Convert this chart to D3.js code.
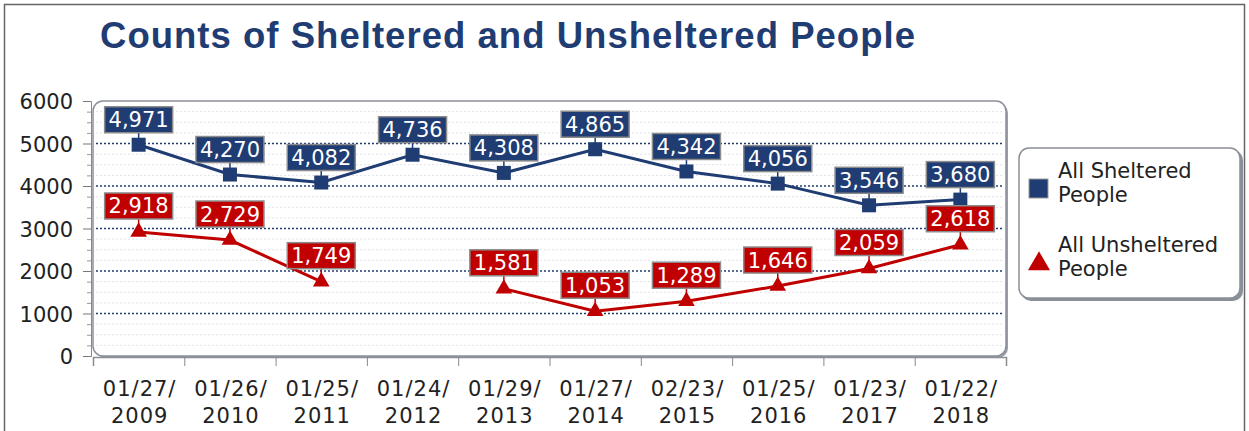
<!DOCTYPE html>
<html><head><meta charset="utf-8">
<script src="https://cdn.jsdelivr.net/npm/d3@7"></script>
<style>
html,body{margin:0;padding:0;background:#fff;}
svg{display:block;}
</style></head>
<body>
<svg id="c" width="1249" height="431"></svg>
<script>
const categories = ["01/27/2009","01/26/2010","01/25/2011","01/24/2012","01/29/2013","01/27/2014","02/23/2015","01/25/2016","01/23/2017","01/22/2018"];
const sheltered = [4971,4270,4082,4736,4308,4865,4342,4056,3546,3680];
const unsheltered = [2918,2729,1749,null,1581,1053,1289,1646,2059,2618];
const yTicks = [0,1000,2000,3000,4000,5000,6000];
const seriesNames = ["All Sheltered People","All Unsheltered People"];
const title = "Counts of Sheltered and Unsheltered People";

const BLUE = "#1f3c73", RED = "#c00000", TXT = "#222";
const FONT = "DejaVu Sans, Verdana, sans-serif";
const svg = d3.select("#c");
const L = 93, R = 1006, T = 101, B = 356;

// outer border
svg.append("rect").attr("x",4.5).attr("y",4.5).attr("width",1240).attr("height",440)
  .attr("fill","none").attr("stroke","#666").attr("stroke-width",1.5);

// title
svg.append("text").attr("x",100).attr("y",48).text(title)
  .attr("font-family","Liberation Sans, Arial, sans-serif").attr("font-weight","bold")
  .attr("font-size",36.5).attr("fill",BLUE)
  .attr("textLength",815).attr("lengthAdjust","spacing");

const y = d3.scaleLinear().domain([0,6000]).range([B,T]);
const x = d3.scaleBand().domain(categories).range([L,R]);
const xi = d3.scaleLinear().domain([0,categories.length]).range([L,R]);
const cx = c => x(c) + x.bandwidth()/2;

// plot background with shadow
svg.append("rect").attr("x",L+2).attr("y",T+2).attr("width",R-L).attr("height",B-T)
  .attr("rx",10).attr("fill","#9aa0aa");
svg.append("rect").attr("x",L).attr("y",T).attr("width",R-L).attr("height",B-T)
  .attr("rx",10).attr("fill","#fff").attr("stroke","#8a8f98").attr("stroke-width",1.5);

// minor grid
const minor = d3.range(250,6000,250).filter(v => v%1000!==0);
svg.append("g").selectAll("line").data(minor).join("line")
  .attr("x1",L+3).attr("x2",R-3).attr("y1",d=>y(d)).attr("y2",d=>y(d))
  .attr("stroke","#dfe2e8").attr("stroke-width",1).attr("stroke-dasharray","2,2");
// major grid
svg.append("g").selectAll("line").data(yTicks.filter(v=>v>0&&v<6000)).join("line")
  .attr("x1",L+3).attr("x2",R-3).attr("y1",d=>y(d)).attr("y2",d=>y(d))
  .attr("stroke",BLUE).attr("stroke-width",1.6).attr("stroke-dasharray","2,2");

// y axis
const ya = svg.append("g").attr("transform",`translate(${L-2},0)`)
  .call(d3.axisLeft(y).tickValues(yTicks).tickSize(8).tickPadding(10).tickFormat(d3.format("d")));
ya.select(".domain").attr("stroke","#888");
ya.selectAll(".tick line").attr("stroke","#777");
ya.selectAll("text").attr("font-family",FONT).attr("font-size",21).attr("fill",TXT).attr("dy","0.36em");
const ym = svg.append("g").attr("transform",`translate(${L-2},0)`)
  .call(d3.axisLeft(y).tickValues(minor).tickSize(4).tickFormat(""));
ym.select(".domain").remove();
ym.selectAll(".tick line").attr("stroke","#999");

// x axis
const xa = svg.append("g").attr("transform",`translate(0,${B+1})`)
  .call(d3.axisBottom(xi).ticks(categories.length).tickSize(9).tickFormat(""));
xa.select(".domain").attr("stroke","#8a8f98").attr("stroke-width",1.5);
xa.selectAll(".tick line").attr("stroke","#888");

const xl = svg.append("g").selectAll("text").data(categories).join("text")
  .attr("x",d=>cx(d)+1).attr("y",396).attr("text-anchor","middle")
  .attr("font-family",FONT).attr("font-size",21)
  .attr("letter-spacing",1).attr("fill",TXT);
xl.append("tspan").attr("x",d=>cx(d)+1).text(d=>d.slice(0,6));
xl.append("tspan").attr("x",d=>cx(d)+1).attr("dy",27).text(d=>d.slice(6));

// lines
const line = d3.line().defined(d=>d.v!=null).x(d=>cx(d.c)).y(d=>y(d.v));
const sData = categories.map((c,i)=>({c,v:sheltered[i]}));
const uData = categories.map((c,i)=>({c,v:unsheltered[i]}));
svg.append("path").datum(sData).attr("d",line).attr("fill","none").attr("stroke",BLUE).attr("stroke-width",3);
svg.append("path").datum(uData).attr("d",line).attr("fill","none").attr("stroke",RED).attr("stroke-width",3);

// markers
svg.append("g").selectAll("rect").data(sData).join("rect")
  .attr("x",d=>cx(d.c)-7).attr("y",d=>y(d.v)-7).attr("width",14).attr("height",14).attr("fill",BLUE);
const tri = d3.symbol().type(d3.symbolTriangle).size(120);
svg.append("g").selectAll("path").data(uData.filter(d=>d.v!=null)).join("path")
  .attr("transform",d=>`translate(${cx(d.c)},${y(d.v)})`).attr("d",tri).attr("fill",RED);

// data labels
function labels(data, color, gap){
  const g = svg.append("g").selectAll("g").data(data.filter(d=>d.v!=null)).join("g")
    .attr("transform",d=>`translate(${cx(d.c)},${y(d.v)})`);
  const fmt = d3.format(",");
  g.append("line").attr("x1",0).attr("x2",0).attr("y1",0).attr("y2",-gap).attr("stroke",color).attr("stroke-width",1.5);
  g.append("rect").attr("x",-34).attr("y",-gap-26).attr("width",68).attr("height",26)
    .attr("fill",color).attr("stroke","#8c8c8c").attr("stroke-width",1.5);
  g.append("text").attr("x",0).attr("y",-gap-5.5).attr("text-anchor","middle")
    .attr("font-family",FONT).attr("font-size",21)
    .attr("fill","#fff").text(d=>fmt(d.v));
}
labels(sData, BLUE, 12);
labels(uData, RED, 13);

// legend
const lg = svg.append("g");
lg.append("rect").attr("x",1021).attr("y",150).attr("width",222).attr("height",151).attr("rx",10).attr("fill","#8a909a");
lg.append("rect").attr("x",1019).attr("y",148).attr("width",221).attr("height",150).attr("rx",10)
  .attr("fill","#fff").attr("stroke","#8a8f98").attr("stroke-width",1.5);
lg.append("rect").attr("x",1029).attr("y",179).attr("width",19).attr("height",19).attr("fill",BLUE).attr("stroke","#999").attr("stroke-width",1);
lg.append("path").attr("transform","translate(1039,264)").attr("d",d3.symbol().type(d3.symbolTriangle).size(210)).attr("fill",RED);
const legText = [[seriesNames[0],178],[seriesNames[1],252]];
legText.forEach(([name,yy])=>{
  const parts = name.split(" ");
  const t = lg.append("text").attr("font-family",FONT).attr("font-size",21).attr("fill",TXT);
  t.append("tspan").attr("x",1058).attr("y",yy).text(parts.slice(0,2).join(" "));
  t.append("tspan").attr("x",1058).attr("y",yy+24).text(parts.slice(2).join(" "));
});
</script>
</body></html>
